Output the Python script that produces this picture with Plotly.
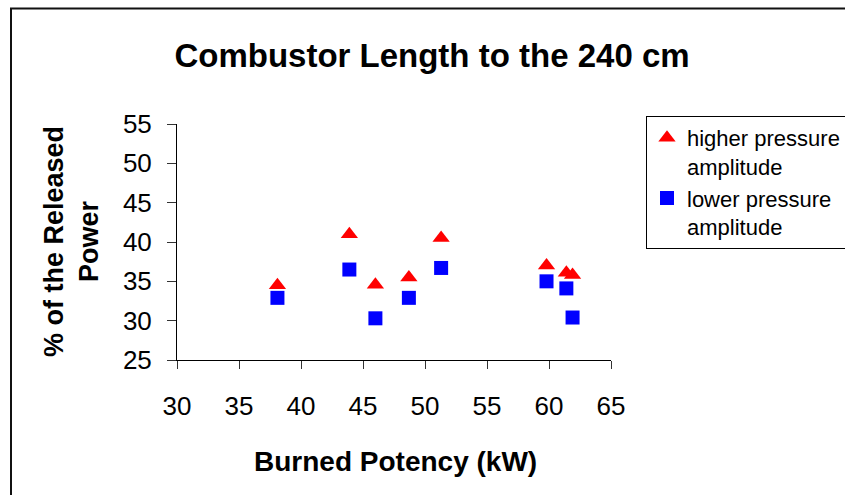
import plotly.graph_objects as go

# Data
burned_potency_kw = [38.1, 43.9, 46.0, 48.7, 51.3, 59.8, 61.4, 61.9]
higher_pressure = [34.5, 41.0, 34.55, 35.5, 40.5, 37.0, 36.1, 35.8]
lower_pressure = [32.9, 36.5, 30.3, 32.9, 36.7, 35.0, 34.1, 30.4]

series_names = ["higher pressure<br>amplitude", "lower pressure<br>amplitude"]
title_text = "Combustor Length to the 240 cm"
x_title = "Burned Potency (kW)"
y_title = "% of the Released<br>Power"
x_ticks = [30, 35, 40, 45, 50, 55, 60, 65]
y_ticks = [25, 30, 35, 40, 45, 50, 55]

FONT = "Liberation Sans, Arial, sans-serif"
W, H = 845, 495
L, R, T, B = 177, 234, 124, 135
PW, PH = W - L - R, H - T - B


def px_to_paper_x(px):
    return (px - L) / PW


def px_to_paper_y(py):
    return (H - B - py) / PH


fig = go.Figure()
fig.add_trace(go.Scatter(
    x=burned_potency_kw, y=higher_pressure, mode="markers",
    name=series_names[0],
    marker=dict(symbol="triangle-up", size=15, color="#FF0000"),
))
fig.add_trace(go.Scatter(
    x=burned_potency_kw, y=lower_pressure, mode="markers",
    name=series_names[1],
    marker=dict(symbol="square", size=14, color="#0000FF"),
))

axis_common = dict(
    showgrid=False, zeroline=False, showline=True, linecolor="#000000",
    linewidth=1, ticks="outside", tickcolor="#333333", tickwidth=1,
    tickfont=dict(family=FONT, size=26, color="#000000"),
)

fig.update_xaxes(range=[30, 65], tickvals=x_ticks, ticklen=8,
                 ticklabelstandoff=15, **axis_common)
fig.update_yaxes(range=[25, 55], tickvals=y_ticks, ticklen=9,
                 ticklabelstandoff=10, **axis_common)

fig.update_layout(
    width=W, height=H,
    margin=dict(l=L, r=R, t=T, b=B, autoexpand=False),
    paper_bgcolor="white", plot_bgcolor="white",
    font=dict(family=FONT, color="#000000"),
    title=dict(text="<b>" + title_text + "</b>", xref="paper",
               x=px_to_paper_x(432), xanchor="center",
               yref="container", y=1 - 55 / H, yanchor="middle",
               font=dict(family=FONT, size=33, color="#000000")),
    legend=dict(x=px_to_paper_x(646), y=px_to_paper_y(116),
                xanchor="left", yanchor="top",
                bordercolor="#000000", borderwidth=1, bgcolor="white",
                font=dict(family=FONT, size=22, color="#000000"),
                valign="top", tracegroupgap=2),
    showlegend=True,
)

fig.add_annotation(text="<b>" + x_title + "</b>", xref="paper", yref="paper",
                   x=px_to_paper_x(395), y=px_to_paper_y(461),
                   xanchor="center", yanchor="middle", showarrow=False,
                   font=dict(family=FONT, size=28, color="#000000"))
fig.add_annotation(text="<b>" + y_title + "</b>", xref="paper", yref="paper",
                   x=px_to_paper_x(71), y=px_to_paper_y(242),
                   xanchor="center", yanchor="middle", showarrow=False,
                   textangle=-90,
                   font=dict(family=FONT, size=27, color="#000000"))

# outer chart-area border
fig.add_shape(type="rect", xref="paper", yref="paper",
              x0=px_to_paper_x(11), x1=px_to_paper_x(860),
              y0=px_to_paper_y(510), y1=px_to_paper_y(8.5),
              line=dict(color="#111111", width=2), layer="below")

fig.write_html(
    "out.html",
    config={"displayModeBar": False},
    post_script="document.body.style.margin='0';"
                "document.body.style.overflow='hidden';",
)
